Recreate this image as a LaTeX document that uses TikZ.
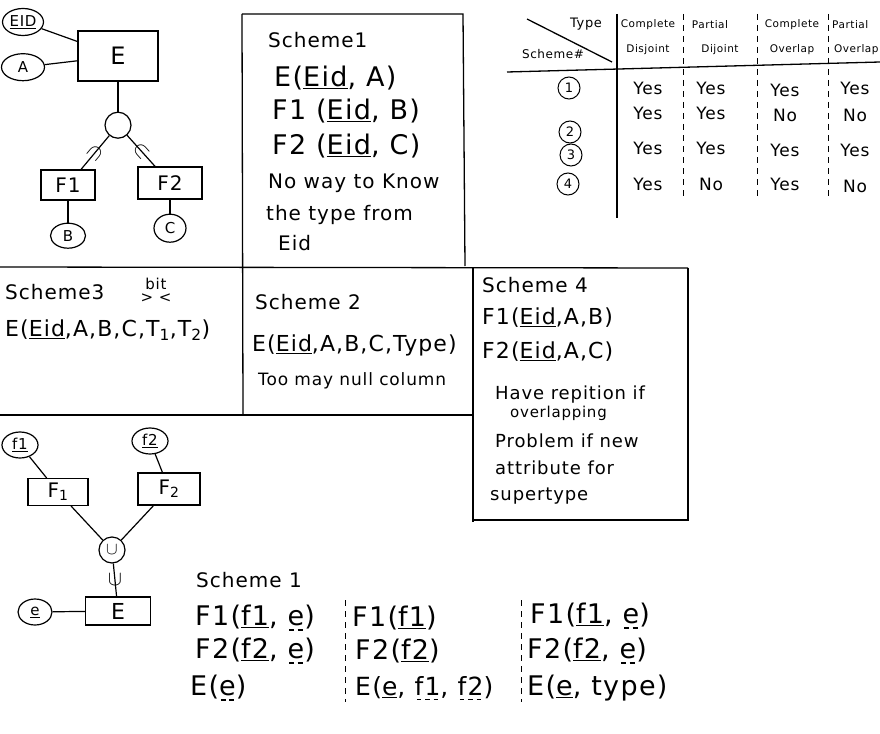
\documentclass[tikz,border=0pt]{standalone}
\usepackage{fontspec}
\setmainfont[LetterSpace=5]{DejaVu Sans}
\usetikzlibrary{positioning, shapes.geometric, calc}

\newsavebox{\fkbox}
\newcommand{\pk}[1]{\underline{#1}}
\newcommand{\fk}[1]{\sbox{\fkbox}{#1}\rlap{\usebox{\fkbox}}%
  \raisebox{-0.2em}{\hbox to \wd\fkbox{\xleaders\hbox to 0.3em{\hss\rule{0.18em}{0.06em}\hss}\hfill}}}

\begin{document}
\begin{tikzpicture}[x=1pt, y=-1pt,
    entity/.style={rectangle, draw=black, line width=1.2pt, minimum width=58pt,
      minimum height=30pt, font=\fontsize{20}{22}\selectfont},
    attr/.style={ellipse, draw=black, line width=1.2pt, minimum width=40pt,
      minimum height=27pt, inner sep=1pt, font=\fontsize{15}{17}\selectfont},
    spec/.style={circle, draw=black, line width=1.2pt, minimum size=26pt,
      inner sep=0pt, font=\fontsize{16}{18}\selectfont},
    line/.style={-, line width=1.2pt},
    subsetmark/.style={inner sep=0pt, font=\fontsize{22}{22}\selectfont},
    frame/.style={line width=1.3pt},
    sep/.style={line width=0.9pt, dash pattern=on 6pt off 5pt},
    big/.style={anchor=west, inner sep=0pt, font=\fontsize{27}{29}\selectfont},
    rel/.style={anchor=west, inner sep=0pt, font=\fontsize{22}{24}\selectfont},
    mid/.style={anchor=west, inner sep=0pt, font=\fontsize{20}{22}\selectfont},
    note/.style={anchor=west, inner sep=0pt, font=\fontsize{18}{20}\selectfont},
    hdr/.style={inner sep=0pt, font=\fontsize{10.5}{12}\selectfont},
    cell/.style={inner sep=0pt, font=\fontsize{17}{19}\selectfont},
    num/.style={circle, draw=black, line width=1pt, minimum size=22pt,
      inner sep=0pt, font=\fontsize{13}{15}\selectfont}
    ]
    \useasboundingbox (0,0) rectangle (880,733);

    % Cadres
    \draw[frame] (242,14) -- (463,14) -- (465,266);
    \draw[frame] (242,14) -- (243,415);
    \draw[frame] (0,267) -- (688,268);
    \draw[frame] (0,415) -- (473,415);
    \draw[frame] (473,268) -- (473,522);
    \draw[frame] (688,268) -- (688,520) -- (473,520);

    % ER haut
    \node[entity, minimum width=80pt, minimum height=50pt,
      font=\fontsize{24}{26}\selectfont] (E) at (118,56) {E};
    \node[attr] (EID) at (23,22) {\pk{EID}};
    \node[attr, minimum width=43pt, below=17pt of EID] (A) {A};
    \node[spec, below=30pt of E] (isa) {};
    \node[entity, minimum width=54pt] (F1) at (68,185) {F1};
    \node[entity, minimum width=64pt, minimum height=32pt] (F2) at (170,183) {F2};
    \node[attr, minimum width=35pt, minimum height=25pt, below=22pt of F1] (B) {B};
    \node[attr, minimum width=32pt, minimum height=28pt, below=14pt of F2] (C) {C};

    \draw[line] (EID) -- (E);
    \draw[line] (A) -- (E);
    \draw[line] (E) -- (isa);
    \draw[line] (isa) -- node[subsetmark, sloped] {$\supset$} (F1);
    \draw[line] (isa) -- node[subsetmark, sloped] {$\subset$} (F2);
    \draw[line] (F1) -- (B);
    \draw[line] (F2) -- (C);

    % Scheme 1 (haut)
    \node[mid] (s1) at (268,40) {Scheme1};
    \node[big] (s1E) at (274,78) {E(\pk{Eid}, A)};
    \node[big] (s1F1) at (272,111) {F1 (\pk{Eid}, B)};
    \node[big] (s1F2) at (272,146) {F2 (\pk{Eid}, C)};
    \node[mid] (s1n1) at (268,183) {No way to Know};
    \node[mid] (s1n2) at (266,215) {the type from};
    \node[mid] (s1n3) at (278,243) {Eid};

    % Tableau
    \draw[frame] (527,19) -- (612,62);
    \draw[frame] (617,14) -- (617,218);
    \draw[frame] (507,72) -- (880,62);
    \draw[sep] (683,14) -- (683,198);
    \draw[sep] (757,14) -- (757,198);
    \draw[sep] (828,14) -- (828,198);
    \node[hdr, font=\fontsize{13}{15}\selectfont] (hType) at (586,24) {Type};
    \node[hdr, font=\fontsize{12}{14}\selectfont] (hScheme) at (553,54) {Scheme\#};
    \node[hdr] (h1a) at (648,25) {Complete};
    \node[hdr] (h1b) at (648,50) {Disjoint};
    \node[hdr] (h2a) at (710,25) {Partial};
    \node[hdr] (h2b) at (720,50) {Dijoint};
    \node[hdr] (h3a) at (792,25) {Complete};
    \node[hdr] (h3b) at (792,50) {Overlap};
    \node[hdr, anchor=west] (h4a) at (832,25) {Partial};
    \node[hdr, anchor=west] (h4b) at (834,50) {Overlap};

    \node[num] (n1) at (569,88) {1};
    \node[num] (n2) at (570,132) {2};
    \node[num] (n3) at (571,155) {3};
    \node[num] (n4) at (568,184) {4};

    \node[cell] (c11) at (648,88) {Yes};
    \node[cell] (c12) at (711,88) {Yes};
    \node[cell] (c13) at (785,90) {Yes};
    \node[cell] (c14) at (855,88) {Yes};
    \node[cell] (c21) at (648,113) {Yes};
    \node[cell] (c22) at (711,113) {Yes};
    \node[cell] (c23) at (785,115) {No};
    \node[cell] (c24) at (855,115) {No};
    \node[cell] (c31) at (648,148) {Yes};
    \node[cell] (c32) at (711,148) {Yes};
    \node[cell] (c33) at (785,150) {Yes};
    \node[cell] (c34) at (855,150) {Yes};
    \node[cell] (c41) at (648,184) {Yes};
    \node[cell] (c42) at (711,184) {No};
    \node[cell] (c43) at (785,184) {Yes};
    \node[cell] (c44) at (855,186) {No};

    % Scheme 3
    \node[mid] (s3) at (5,292) {Scheme3};
    \node[inner sep=0pt, font=\fontsize{15}{17}\selectfont] (bit) at (156,284) {bit};
    \node[inner sep=0pt, font=\fontsize{15}{17}\selectfont, below=4pt of bit] (bitmk) {> <};
    \node[rel] (s3E) at (5,330)
    {E(\pk{Eid},A,B,C,T\textsubscript{1},T\textsubscript{2})};

    % Scheme 2
    \node[mid] (s2) at (255,302) {Scheme 2};
    \node[rel] (s2E) at (252,345) {E(\pk{Eid},A,B,C,Type)};
    \node[note, font=\fontsize{17}{19}\selectfont] (s2n) at (258,381) {Too may null column};

    % Scheme 4
    \node[mid] (s4) at (482,285) {Scheme 4};
    \node[rel] (s4F1) at (482,318) {F1(\pk{Eid},A,B)};
    \node[rel] (s4F2) at (482,352) {F2(\pk{Eid},A,C)};
    \node[note] (s4n1) at (495,395) {Have repition if};
    \node[note, font=\fontsize{15}{17}\selectfont] (s4n2) at (510,413) {overlapping};
    \node[note] (s4n3) at (495,441) {Problem if new};
    \node[note] (s4n4) at (495,468) {attribute for};
    \node[note] (s4n5) at (490,496) {supertype};

    % ER bas
    \node[entity, minimum width=60pt, minimum height=27pt] (F1b) at (58,492) {F\textsubscript{1}};
    \node[entity, minimum width=62pt, minimum height=32pt] (F2b) at (169,489) {F\textsubscript{2}};
    \node[attr, minimum width=36pt, minimum height=26pt] (f1) at (20,445) {\pk{f1}};
    \node[attr, minimum width=36pt, minimum height=26pt] (f2) at (150,441) {\pk{f2}};
    \node[spec] (U) at (112,550) {$\cup$};
    \node[entity, minimum width=65pt, minimum height=28pt,
      font=\fontsize{22}{24}\selectfont] (Eb) at (118,611) {E};
    \node[attr, minimum width=34pt, minimum height=26pt] (e) at (35,612) {\pk{e}};

    \draw[line] (f1) -- (F1b);
    \draw[line] (f2) -- (F2b);
    \draw[line] (F1b) -- (U);
    \draw[line] (F2b) -- (U);
    \draw[line] (U) -- node[subsetmark] {$\cup$} (Eb);
    \draw[line] (e) -- (Eb);

    % Scheme 1 (bas)
    \node[mid] (s1b) at (196,580) {Scheme 1};
    \node[big] (r11) at (195,618) {F1(\pk{f1}, \fk{e})};
    \node[big] (r12) at (195,651) {F2(\pk{f2}, \fk{e})};
    \node[big] (r13) at (190,688) {E(\fk{e})};
    \node[big] (r21) at (352,618) {F1(\pk{f1})};
    \node[big] (r22) at (355,651) {F2(\pk{f2})};
    \node[big, font=\fontsize{25}{27}\selectfont] (r23) at (355,688) {E(\pk{e}, \fk{f1}, \fk{f2})};
    \node[big] (r31) at (530,616) {F1(\pk{f1}, \fk{e})};
    \node[big] (r32) at (527,651) {F2(\pk{f2}, \fk{e})};
    \node[big] (r33) at (527,688) {E(\pk{e}, type)};
    \draw[sep] (345,600) -- (345,702);
    \draw[sep] (521,600) -- (521,702);

  \end{tikzpicture}
\end{document}
